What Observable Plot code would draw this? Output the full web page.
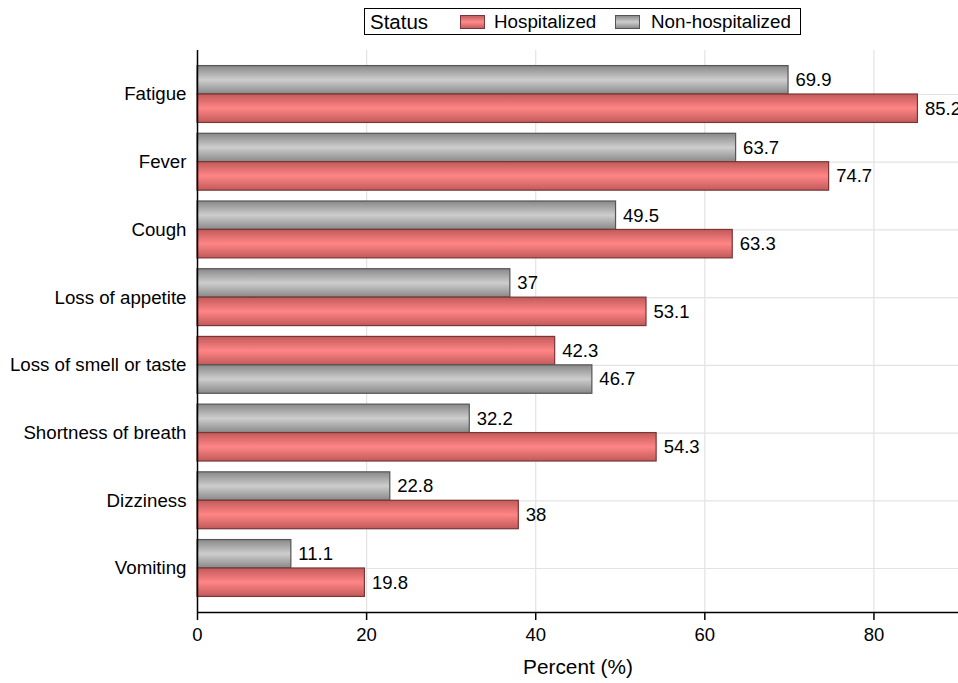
<!DOCTYPE html>
<html>
<head>
<meta charset="utf-8">
<script src="https://cdn.jsdelivr.net/npm/d3@7"></script>
<script src="https://cdn.jsdelivr.net/npm/@observablehq/plot@0.6"></script>
<style>
  body { margin: 0; background: #fff; font-family: "Liberation Sans", Arial, sans-serif; }
  #legend { position: relative; height: 45px; width: 958px; }
  #legend .box { position: absolute; left: 364px; top: 8px; width: 437px; height: 27px; border: 1px solid #000; box-sizing: border-box; }
  #legend .box span { position: absolute; white-space: nowrap; line-height: 25px; top: 0; font-size: 18.8px; }
  #legend .box span.title { font-size: 20.5px; }
  #legend .box span.key { top: 6px; width: 25px; height: 14px; box-sizing: border-box; }
  .k-h { background: linear-gradient(#c45f5f, #ff8a8a 50%, #c45f5f); border: 1px solid #7a3535; }
  .k-n { background: linear-gradient(#8c8c8c, #cdcdcd 50%, #8c8c8c); border: 1px solid #555; }
</style>
</head>
<body>
<div id="legend"><div class="box">
  <span class="title" style="left:5px">Status</span>
  <span class="key k-h" style="left:95px"></span><span style="left:129px">Hospitalized</span>
  <span class="key k-n" style="left:250px"></span><span style="left:286px">Non-hospitalized</span>
</div></div>
<div id="chart"></div>
<script>
const categories = ["Fatigue", "Fever", "Cough", "Loss of appetite", "Loss of smell or taste", "Shortness of breath", "Dizziness", "Vomiting"];
const hospitalized = [85.2, 74.7, 63.3, 53.1, 42.3, 54.3, 38, 19.8];
const nonHospitalized = [69.9, 63.7, 49.5, 37, 46.7, 32.2, 22.8, 11.1];
const xTicks = [0, 20, 40, 60, 80];
const xLabel = "Percent (%)";

const barW = 0.42;
const rows = [];
categories.forEach((c, i) => {
  const h = hospitalized[i], n = nonHospitalized[i];
  const pair = [
    {category: c, i, status: "Hospitalized", value: h},
    {category: c, i, status: "Non-hospitalized", value: n}
  ].sort((a, b) => a.value - b.value);
  pair.forEach((r, slot) => {
    r.y1 = i + (slot === 0 ? -barW : 0);
    r.y2 = r.y1 + barW;
    r.ym = (r.y1 + r.y2) / 2;
    rows.push(r);
  });
});

const chart = Plot.plot({
  width: 958,
  height: 638,
  marginTop: 5,
  marginBottom: 71,
  marginLeft: 197,
  marginRight: 0,
  style: {fontFamily: "'Liberation Sans', Arial, sans-serif", fontSize: "18.5px", color: "#000", background: "#fff", overflow: "visible"},
  x: {domain: [0, 90]},
  y: {domain: [-0.65, 7.65], reverse: true},
  marks: [
    Plot.gridX(xTicks.filter(d => d > 0), {stroke: "#e3e3e3", strokeOpacity: 1, strokeWidth: 1.2}),
    Plot.gridY(d3.range(categories.length), {stroke: "#e3e3e3", strokeOpacity: 1, strokeWidth: 1.2}),
    Plot.rectX(rows, {
      x1: 0, x2: "value", y1: "y1", y2: "y2",
      fill: d => d.status === "Hospitalized" ? "url(#gH)" : "url(#gN)",
      stroke: d => d.status === "Hospitalized" ? "#7a3535" : "#555555",
      strokeWidth: 1.2
    }),
    Plot.text(rows, {x: "value", y: "ym", text: d => String(d.value), textAnchor: "start", dx: 7, fontSize: 18.5}),
    Plot.axisY(d3.range(categories.length), {tickFormat: i => categories[i], tickSize: 0, tickPadding: 11, fontSize: 18.7, label: null}),
    Plot.axisX(xTicks, {tickSize: 8, tickPadding: 7, fontSize: 18.5, label: null, strokeWidth: 1.5}),
    Plot.ruleX([0], {stroke: "#000", strokeWidth: 1.5}),
    Plot.ruleY([7.65], {stroke: "#000", strokeWidth: 1.5}),
    Plot.text([xLabel], {frameAnchor: "bottom", dy: 61, fontSize: 20.8})
  ]
});

const defs = d3.create("svg:defs");
function grad(id, edge, mid) {
  const g = defs.append("linearGradient").attr("id", id).attr("x1", 0).attr("y1", 0).attr("x2", 0).attr("y2", 1);
  g.append("stop").attr("offset", "0%").attr("stop-color", edge);
  g.append("stop").attr("offset", "50%").attr("stop-color", mid);
  g.append("stop").attr("offset", "100%").attr("stop-color", edge);
}
grad("gH", "#c25a5a", "#ff8585");
grad("gN", "#888888", "#cdcdcd");
chart.insertBefore(defs.node(), chart.firstChild);
document.getElementById("chart").appendChild(chart);
</script>
</body>
</html>
